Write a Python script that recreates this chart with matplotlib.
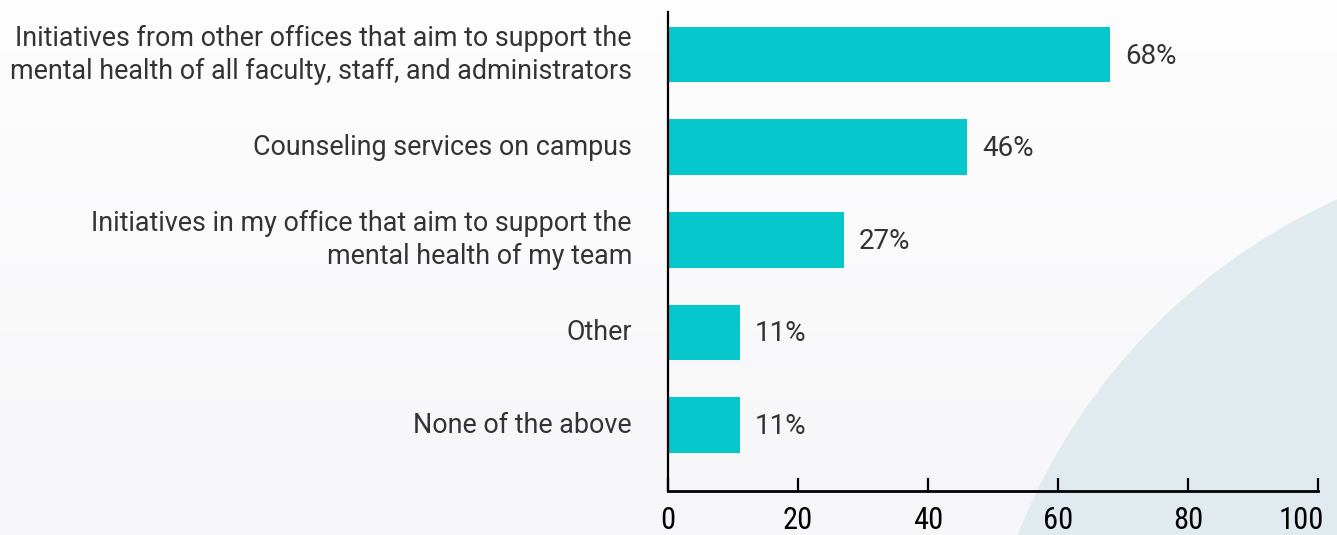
import numpy as np
import matplotlib
matplotlib.use("Agg")
import matplotlib.pyplot as plt
from matplotlib import font_manager
from matplotlib.patches import Circle
import matplotlib.transforms as mtransforms

categories = [
    "Initiatives from other offices that aim to support the\nmental health of all faculty, staff, and administrators",
    "Counseling services on campus",
    "Initiatives in my office that aim to support the\nmental health of my team",
    "Other",
    "None of the above",
]
values = [68, 46, 27, 11, 11]
xticks = [0, 20, 40, 60, 80, 100]

BAR = "#06c7cc"
TEXT = "#333333"

names = {f.name for f in font_manager.fontManager.ttflist}
tick_font = next((n for n in ["Roboto Condensed", "Liberation Sans Narrow",
                              "Open Sans Condensed", "Roboto"] if n in names), "DejaVu Sans")
plt.rcParams["font.family"] = ["Roboto", "DejaVu Sans"]

fig = plt.figure(figsize=(13.37, 5.35), dpi=100)

# soft background with a pale circle in the lower right
bg = fig.add_axes([0, 0, 1, 1], zorder=-10)
grad = np.linspace(0, 1, 100)[:, None]
bg.imshow(np.dstack([0.995 - 0.03 * grad, 0.995 - 0.03 * grad, 0.998 - 0.025 * grad]),
          extent=[0, 1337, 535, 0], aspect="auto")
bg.add_patch(Circle((1590, 760), 615, color="#e1ebef", lw=0))
bg.set_xlim(0, 1337)
bg.set_ylim(535, 0)
bg.axis("off")

ax = fig.add_axes([668 / 1337, 1 - 491 / 535, 650 / 1337, 479 / 535])
ax.patch.set_alpha(0)
y = np.arange(len(categories))[::-1]
ax.barh(y, values, height=0.6, color=BAR)

for yi, v in zip(y, values):
    ax.annotate(f"{v}%", (v, yi), xytext=(11, -1), textcoords="offset points",
                va="center", ha="left", fontsize=20, color=TEXT)

ax.set_xlim(0, 100)
ax.set_ylim(-0.71, 4.46)
ax.set_yticks(y)
ax.set_yticklabels(categories, fontsize=19.4, color=TEXT, linespacing=1.3)
ax.set_xticks(xticks)
ax.set_xticklabels([str(t) for t in xticks], fontsize=22, fontfamily=tick_font, color="black")

ax.tick_params(axis="y", length=0, pad=26)
ax.tick_params(axis="x", direction="in", length=9.5, width=1.6, pad=11)
for s in ("top", "right"):
    ax.spines[s].set_visible(False)
ax.spines["left"].set_linewidth(1.6)
ax.spines["bottom"].set_linewidth(2.0)

# nudge category labels up a little
for lab in ax.get_yticklabels():
    dy = 6 if "\n" in lab.get_text() else 3
    lab.set_transform(lab.get_transform() + mtransforms.ScaledTranslation(0, dy / 100, fig.dpi_scale_trans))

# last tick label sits flush with the right edge, as in the source
last = ax.get_xticklabels()[-1]
last.set_horizontalalignment("right")
last.set_transform(last.get_transform() + mtransforms.ScaledTranslation(6 / 100, 0, fig.dpi_scale_trans))

fig.savefig("out.png", dpi=100)
